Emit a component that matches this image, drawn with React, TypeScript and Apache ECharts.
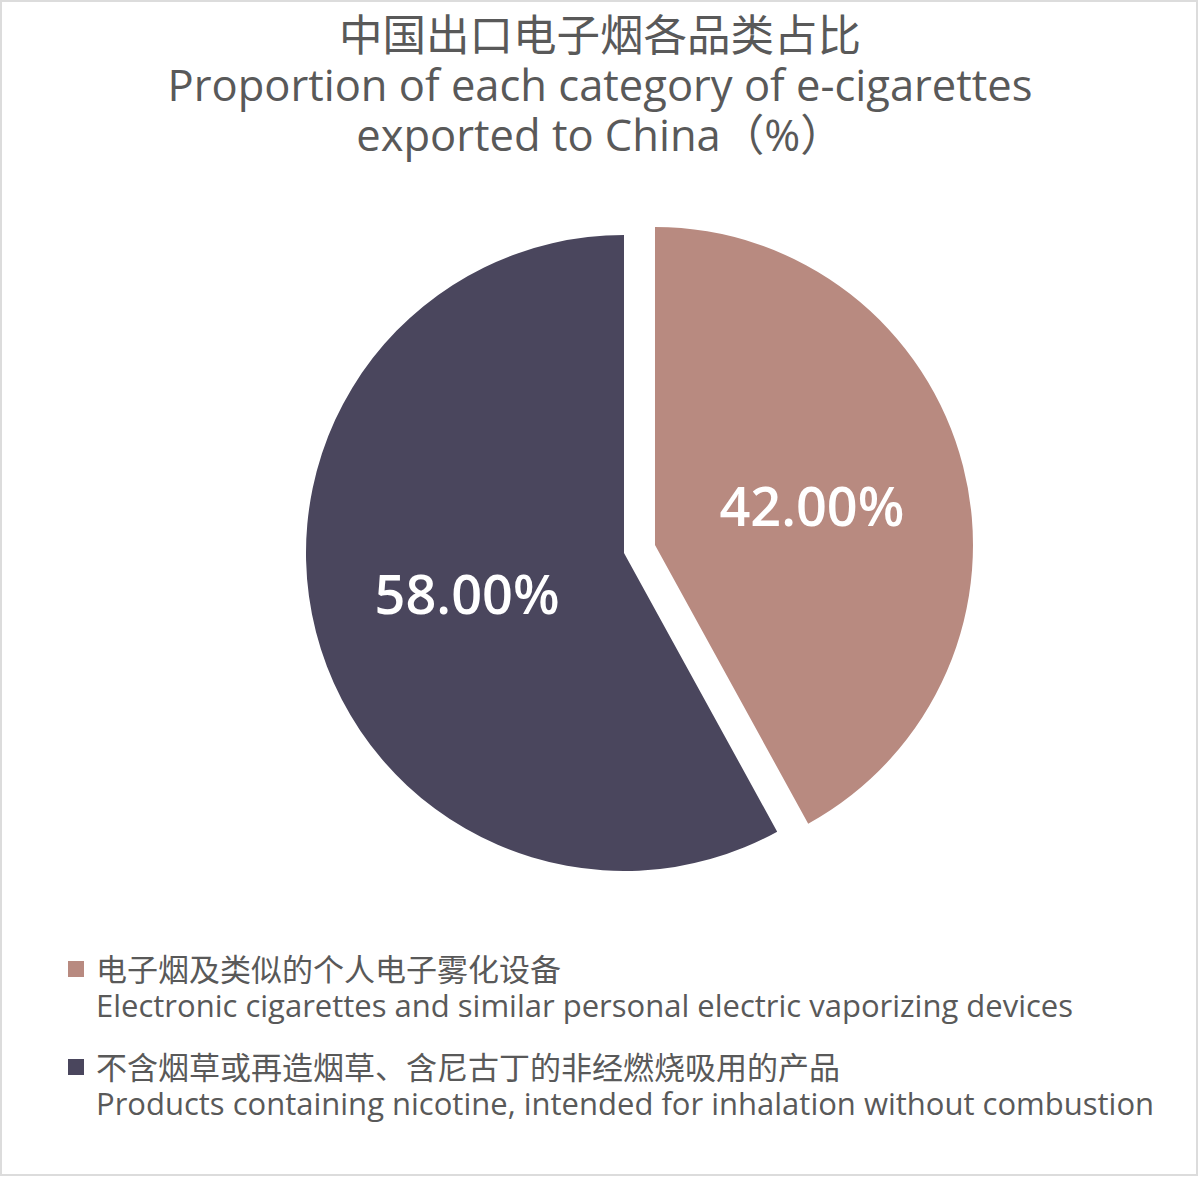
import React, { useEffect, useRef } from 'react';
import * as echarts from 'echarts';

// 品类名称（中英文）与占比
const categoriesZh = ['电子烟及类似的个人电子雾化设备', '不含烟草或再造烟草、含尼古丁的非经燃烧吸用的产品'];
const categoriesEn = [
  'Electronic cigarettes and similar personal electric vaporizing devices',
  'Products containing nicotine, intended for inhalation without combustion',
];
const shares = [42, 58];
const colors = ['#b88a80', '#4a465d'];

const titleText = '中国出口电子烟各品类占比\nProportion of each category of e-cigarettes\nexported to China（%）';
const fontFamily = "'Open Sans', 'Noto Sans CJK SC', sans-serif";

const App: React.FC = () => {
  const chartRef = useRef<HTMLDivElement>(null);

  useEffect(() => {
    if (!chartRef.current) return;
    const chart = echarts.init(chartRef.current, null, { renderer: 'svg' });

    const option = {
      animation: false,
      backgroundColor: '#ffffff',
      title: {
        text: titleText,
        left: 'center',
        top: 9,
        padding: 0,
        textStyle: {
          fontFamily,
          fontSize: 43.5,
          fontWeight: 'normal',
          lineHeight: 50,
          color: '#595959',
        },
      },
      legend: {
        orient: 'vertical',
        left: 68,
        top: 915,
        padding: 0,
        itemWidth: 16,
        itemHeight: 16,
        itemGap: -10,
        icon: 'rect',
        data: categoriesZh,
        // 空行在前，使中文行与图例方块对齐
        formatter: (name: string) => '\n' + name + '\n' + categoriesEn[categoriesZh.indexOf(name)],
        textStyle: {
          fontFamily,
          fontSize: 31,
          lineHeight: 36,
          color: '#595959',
          padding: [0, 0, 0, 7],
        },
      },
      graphic: [
        {
          type: 'rect',
          shape: { x: 1, y: 1, width: 1196, height: 1174 },
          style: { fill: 'none', stroke: '#dcdcdc', lineWidth: 2 },
          silent: true,
        },
      ],
      series: [
        {
          type: 'pie',
          center: [624, 553],
          radius: 318,
          startAngle: 90,
          clockwise: true,
          selectedMode: 'single',
          selectedOffset: 32,
          label: {
            show: true,
            position: 'inside',
            formatter: (p: any) => Number(p.value).toFixed(2) + '%',
            fontFamily,
            fontSize: 54,
            fontWeight: 600,
            color: '#ffffff',
          },
          labelLine: { show: false },
          emphasis: { disabled: true },
          data: categoriesZh.map((name, i) => ({
            name,
            value: shares[i],
            selected: i === 0,
            itemStyle: { color: colors[i] },
          })),
        },
      ],
    };

    chart.setOption(option);
    return () => {
      chart.dispose();
    };
  }, []);

  return (
    <div
      ref={chartRef}
      style={{ position: 'absolute', left: 0, top: 0, width: '1200px', height: '1178px' }}
    ></div>
  );
};

export default App;
